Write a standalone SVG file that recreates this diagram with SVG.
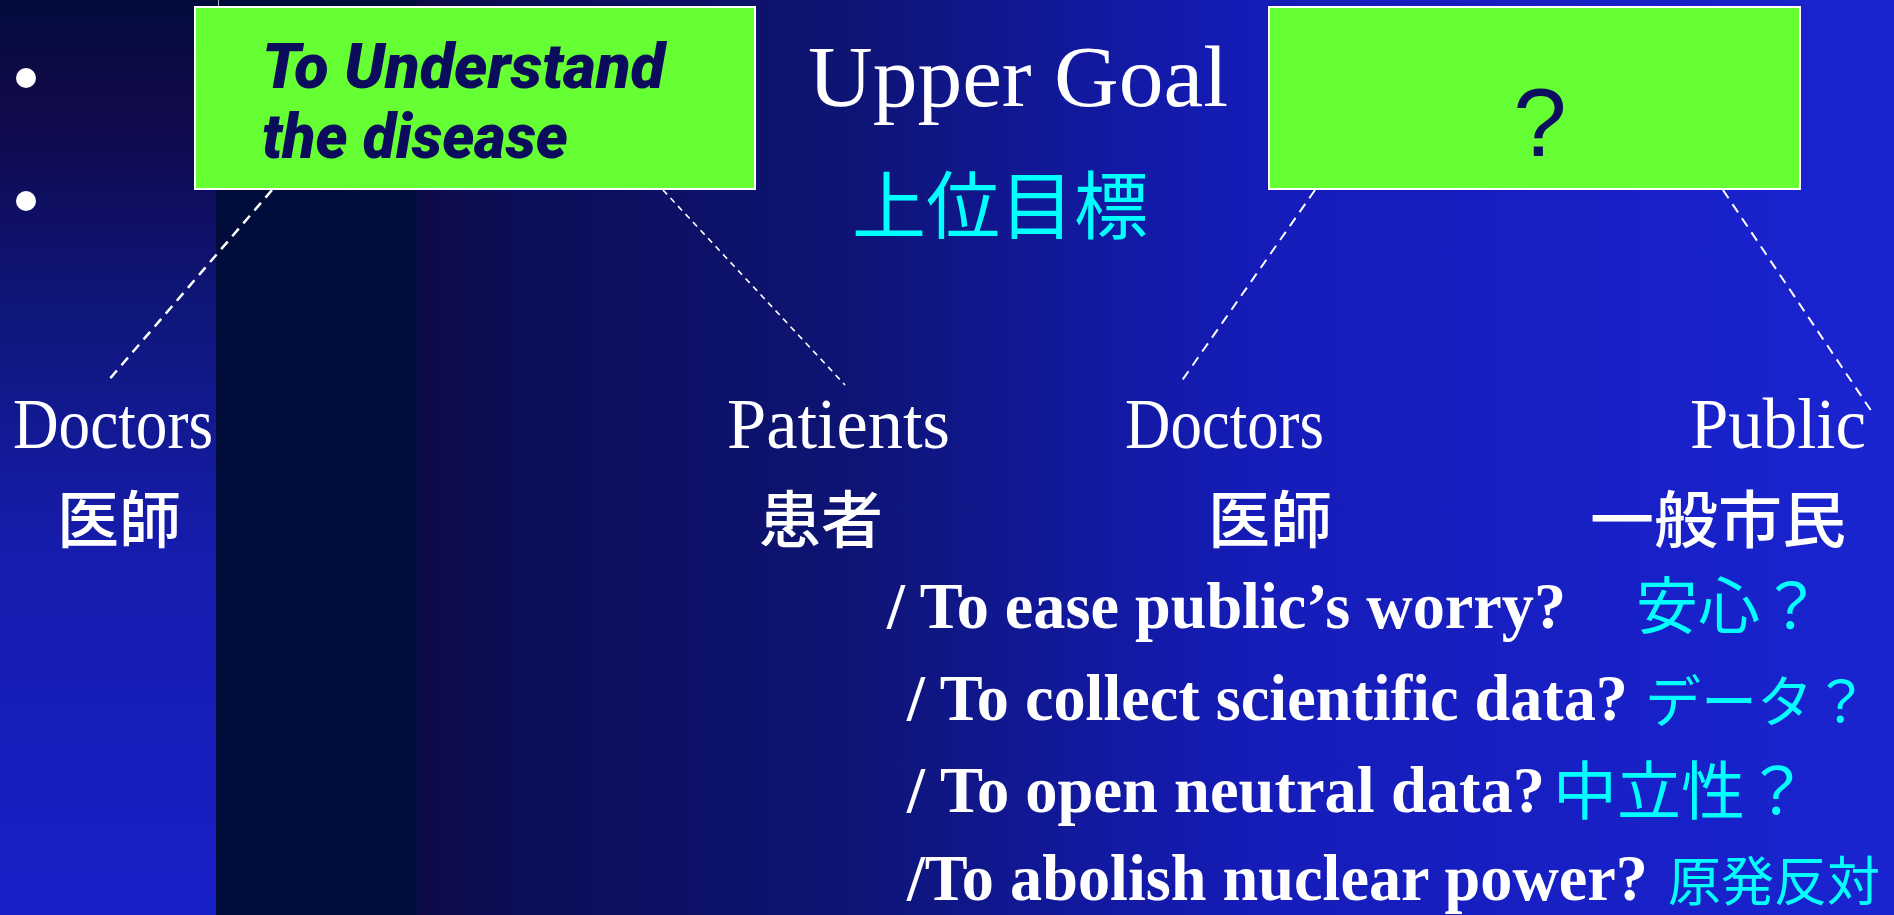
<svg xmlns="http://www.w3.org/2000/svg" width="1894" height="915" viewBox="0 0 1894 915">
<defs>
<linearGradient id="leftBg" x1="0" y1="0" x2="0" y2="915" gradientUnits="userSpaceOnUse">
<stop offset="0" stop-color="#020c3c"/>
<stop offset="0.11" stop-color="#110a48"/>
<stop offset="0.22" stop-color="#0e0e60"/>
<stop offset="0.33" stop-color="#0f1678"/>
<stop offset="0.6" stop-color="#161cac"/>
<stop offset="1" stop-color="#1820c8"/>
</linearGradient>
<linearGradient id="mainBg" x1="216" y1="0" x2="1894" y2="0" gradientUnits="userSpaceOnUse">
<stop offset="0" stop-color="#000c3a"/>
<stop offset="0.1198" stop-color="#000e3e"/>
<stop offset="0.12" stop-color="#0e0a46"/>
<stop offset="0.181" stop-color="#0a0e58"/>
<stop offset="0.378" stop-color="#0e1474"/>
<stop offset="0.527" stop-color="#1219a0"/>
<stop offset="0.622" stop-color="#151cb8"/>
<stop offset="1" stop-color="#1a24d0"/>
</linearGradient>
</defs>
<style>
.box{fill:#66ff33;stroke:#ffffff;stroke-width:2}
.pop{font-family:Roboto,"Open Sans",sans-serif;font-weight:900;font-style:italic;fill:#0c0c5c;font-size:62px}
.qm{font-family:"Liberation Sans",Arial,sans-serif;fill:#0c0f5e;font-size:96px}
.lbl{font-family:"Liberation Serif","Times New Roman",serif;fill:#ffffff;font-size:72px}
.jlbl{font-family:"Noto Sans CJK JP","Noto Sans CJK SC",sans-serif;fill:#ffffff;font-size:62px;font-weight:500}
.title{font-family:"Liberation Serif","Times New Roman",serif;fill:#ffffff;font-size:86px}
.cyan{font-family:"Noto Sans CJK JP","Noto Sans CJK SC",sans-serif;fill:#00ffff}
.q{font-family:"Liberation Serif","Times New Roman",serif;font-weight:bold;fill:#ffffff;font-size:65px}
.dash{stroke:#ffffff;fill:none}
</style>
<rect x="0" y="0" width="216" height="915" fill="url(#leftBg)"/>
<rect x="216" y="0" width="1678" height="915" fill="url(#mainBg)"/>
<line x1="218.5" y1="0" x2="218.5" y2="7" stroke="#b0b0c0" stroke-width="1"/>
<circle cx="26" cy="78" r="10" fill="#ffffff"/>
<circle cx="26" cy="201" r="10" fill="#ffffff"/>

<g id="connectors">
<line class="dash" x1="272" y1="190" x2="107" y2="382" stroke-width="2.5" stroke-dasharray="10 7"/>
<line class="dash" x1="663" y1="190" x2="845" y2="385" stroke-width="1.6" stroke-dasharray="6 5"/>
<line class="dash" x1="1315" y1="190" x2="1181" y2="382" stroke-width="2" stroke-dasharray="10 7"/>
<line class="dash" x1="1723" y1="190" x2="1874" y2="415" stroke-width="2" stroke-dasharray="10 7"/>
</g>

<g id="goal-left">
<rect class="box" x="195" y="7" width="560" height="182"/>
<text class="pop" x="262" y="88" textLength="403" lengthAdjust="spacingAndGlyphs">To Understand</text>
<text class="pop" x="262" y="158" textLength="306" lengthAdjust="spacingAndGlyphs">the disease</text>
</g>

<g id="goal-right">
<rect class="box" x="1269" y="7" width="531" height="182"/>
<text class="qm" x="1540" y="156" text-anchor="middle">?</text>
</g>

<g id="upper-goal">
<text class="title" x="808" y="106" textLength="420" lengthAdjust="spacingAndGlyphs">Upper Goal</text>
<text class="cyan" x="852" y="233" font-size="74">上位目標</text>
</g>

<g id="doctors-left">
<text class="lbl" x="13" y="448" textLength="200" lengthAdjust="spacingAndGlyphs">Doctors</text>
<text class="jlbl" x="57" y="543">医師</text>
</g>

<g id="patients">
<text class="lbl" x="727" y="448" textLength="223" lengthAdjust="spacingAndGlyphs">Patients</text>
<text class="jlbl" x="759" y="543">患者</text>
</g>

<g id="doctors-right">
<text class="lbl" x="1125" y="448" textLength="199" lengthAdjust="spacingAndGlyphs">Doctors</text>
<text class="jlbl" x="1208" y="543">医師</text>
</g>

<g id="public">
<text class="lbl" x="1690" y="448" textLength="176" lengthAdjust="spacingAndGlyphs">Public</text>
<text class="jlbl" x="1590" y="543" textLength="256" lengthAdjust="spacingAndGlyphs">一般市民</text>
</g>

<g id="questions">
<text class="q" x="887" y="628" textLength="679" lengthAdjust="spacingAndGlyphs">/ To ease public’s worry?</text>
<text class="cyan" x="1636" y="629" font-size="62">安心？</text>
<text class="q" x="907" y="720" textLength="721" lengthAdjust="spacingAndGlyphs">/ To collect scientific data?</text>
<text class="cyan" x="1645" y="722" font-size="56">データ？</text>
<text class="q" x="907" y="812" textLength="638" lengthAdjust="spacingAndGlyphs">/ To open neutral data?</text>
<text class="cyan" x="1553" y="814" font-size="64">中立性？</text>
<text class="q" x="907" y="900" textLength="741" lengthAdjust="spacingAndGlyphs">/To abolish nuclear power?</text>
<text class="cyan" x="1668" y="901" font-size="53">原発反対</text>
</g>
</svg>
